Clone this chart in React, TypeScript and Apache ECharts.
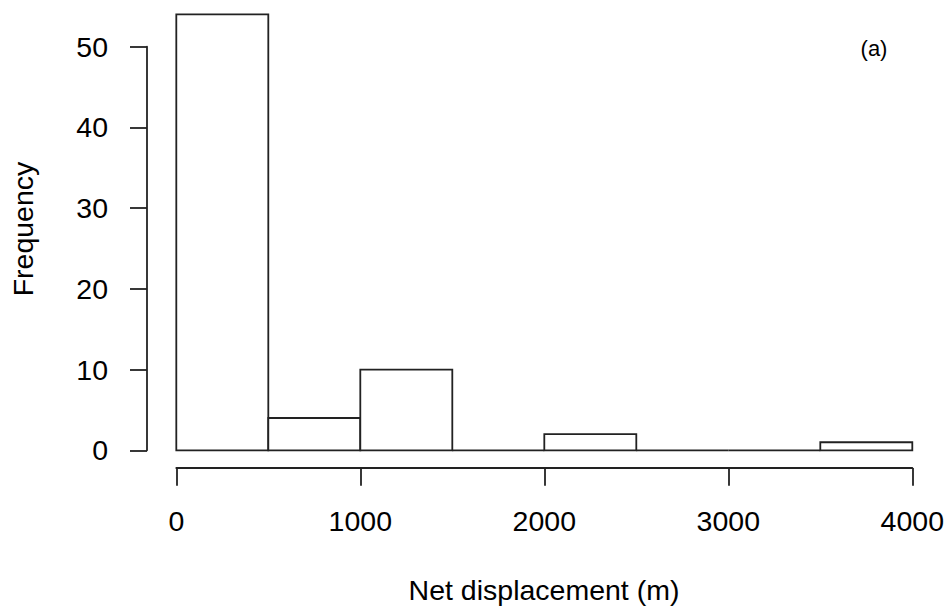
import React, { useEffect, useRef } from "react";
import * as echarts from "echarts";

const binStarts = [0, 500, 1000, 1500, 2000, 2500, 3000, 3500];
const binEnds = [500, 1000, 1500, 2000, 2500, 3000, 3500, 4000];
const counts = [54, 4, 10, 0, 2, 0, 0, 1];
const xTicks = [0, 1000, 2000, 3000, 4000];
const yTicks = [0, 10, 20, 30, 40, 50];

const FONT = "'Liberation Sans', Arial, sans-serif";
const LINE = "#222";
const LW = 1.8;
const FS = 28.5;

export default function App() {
  const ref = useRef<HTMLDivElement>(null);
  useEffect(() => {
    if (!ref.current) return;
    const chart = echarts.init(ref.current, null, { renderer: "svg" });
    const left = 176.3;
    const width = 736;
    const zeroY = 450.3;
    const perUnit = 8.072;
    const barsTop = zeroY - 54 * perUnit;
    const yTop = zeroY - 50 * perUnit;
    const xAxisY = 468;
    const yAxisX = 147;
    chart.setOption({
      animation: false,
      backgroundColor: "#fff",
      grid: [
        { left, width, top: barsTop, height: zeroY - barsTop, outerBoundsMode: "none", containLabel: false },
        { left: yAxisX, width: 765, top: yTop, height: zeroY - yTop, outerBoundsMode: "none", containLabel: false },
        { left, width, top: 400, height: xAxisY - 400, outerBoundsMode: "none", containLabel: false },
      ],
      xAxis: [
        { gridIndex: 0, type: "value", min: 0, max: 4000, show: false },
        { gridIndex: 1, type: "value", min: 0, max: 4000, show: false },
        {
          gridIndex: 2,
          type: "value",
          position: "bottom",
          min: xTicks[0],
          max: xTicks[xTicks.length - 1],
          interval: 1000,
          axisLine: { show: true, lineStyle: { color: LINE, width: LW } },
          axisTick: { show: true, length: 17.7, inside: false, lineStyle: { color: LINE, width: LW } },
          axisLabel: {
            show: true,
            margin: 53,
            fontSize: FS,
            color: "#000",
            fontFamily: FONT,
            verticalAlign: "middle",
            formatter: (v: number) => String(v),
          },
          splitLine: { show: false },
        },
      ],
      yAxis: [
        { gridIndex: 0, type: "value", min: 0, max: 54, show: false },
        {
          gridIndex: 1,
          type: "value",
          position: "left",
          min: yTicks[0],
          max: yTicks[yTicks.length - 1],
          interval: 10,
          axisLine: { show: true, lineStyle: { color: LINE, width: LW } },
          axisTick: { show: true, length: 17, inside: false, lineStyle: { color: LINE, width: LW } },
          axisLabel: { show: true, margin: 39, fontSize: FS, color: "#000", fontFamily: FONT, formatter: (v: number) => String(v) },
          splitLine: { show: false },
        },
        { gridIndex: 2, type: "value", min: 0, max: 1, show: false },
      ],
      series: [
        {
          type: "custom",
          xAxisIndex: 0,
          yAxisIndex: 0,
          data: binStarts.map((s, i) => [s, binEnds[i], counts[i]]),
          encode: { x: [0, 1], y: 2 },
          renderItem: (params: any, api: any) => {
            const p0 = api.coord([api.value(0), 0]);
            const p1 = api.coord([api.value(1), api.value(2)]);
            return {
              type: "polygon",
              shape: {
                points: [
                  [p0[0], p0[1]],
                  [p1[0], p0[1]],
                  [p1[0], p1[1]],
                  [p0[0], p1[1]],
                ],
              },
              style: { fill: "#fff", stroke: LINE, lineWidth: LW },
            };
          },
        },
      ],
      graphic: [
        {
          type: "text",
          x: 23,
          y: 229,
          rotation: Math.PI / 2,
          style: { text: "Frequency", fontSize: FS, fontFamily: FONT, fill: "#000", align: "center", verticalAlign: "middle" },
        },
        {
          type: "text",
          x: 544,
          y: 590,
          style: { text: "Net displacement (m)", fontSize: FS, fontFamily: FONT, fill: "#000", align: "center", verticalAlign: "middle" },
        },
        {
          type: "text",
          x: 874,
          y: 48,
          style: { text: "(a)", fontSize: 22, fontFamily: FONT, fill: "#000", align: "center", verticalAlign: "middle" },
        },
      ],
    });
    return () => chart.dispose();
  }, []);
  return <div ref={ref} style={{ position: "fixed", left: 0, top: 0, width: 950, height: 614 }} />;
}
